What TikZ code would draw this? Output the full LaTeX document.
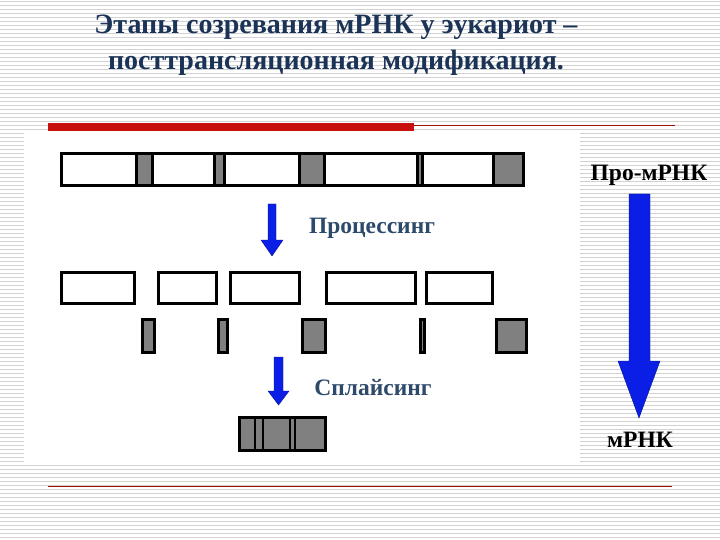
\documentclass[tikz,border=0pt]{standalone}
\usepackage{fontspec}
\setmainfont{Liberation Serif}
\definecolor{navy}{HTML}{1B3356}
\definecolor{lbl}{HTML}{2E4A6B}
\definecolor{exg}{HTML}{808080}
\definecolor{arr}{HTML}{0A1EE6}
\definecolor{redbar}{HTML}{C8100E}
\begin{document}
\begin{tikzpicture}[x=1pt,y=-1pt,
  exon/.style={draw=black,line width=3pt,fill=white},
  intron/.style={draw=black,line width=3pt,fill=exg},
  thin/.style={draw=black,line width=2pt},
  blue/.style={fill=arr,draw=arr!60!black,line width=0.4pt},
  lab/.style={font=\bfseries\fontsize{23.5}{26}\selectfont,text=lbl},
  side/.style={font=\bfseries\fontsize{23.5}{26}\selectfont}]
\useasboundingbox (0,0) rectangle (720,540);
\fill[white] (0,0) rectangle (720,540);
\foreach \y in {1,5,...,540} \draw[gray!35,line width=0.6pt] (0,\y) -- (720,\y);
\fill[white] (24,130) rectangle (580,463);
% title
\node[font=\bfseries\fontsize{28}{36}\selectfont,text=navy,align=center] (title) at (336,45)
  {Этапы созревания мРНК у эукариот –\\ посттрансляционная модификация.};
\fill[redbar] (48,123) rectangle (414,131);
\draw[redbar!80!black,line width=0.8pt] (414,125) -- (675,125);
\draw[redbar!80!black,line width=0.8pt] (48,486) -- (672,486);
% row 1: pro-mRNA
\draw[exon] (61,154) rectangle (523,186);
\foreach \a/\b in {136/152,214/224,299/324,417/422,493/523}
  \draw[intron] (\a,154) rectangle (\b,186);
% row 2 exons
\foreach \a/\b [count=\i] in {61/134,158/216,230/299,326/415,426/492}
  \draw[exon] (\a,272) rectangle (\b,303);
\foreach \a/\b [count=\i] in {142/154,218/227,302/325,420/424,496/526}
  \draw[intron] (\a,319) rectangle (\b,352);
% final mRNA
\draw[intron] (239,417) rectangle (325,450);
\foreach \x in {255,263,290,295} \draw[thin] (\x,417) -- (\x,450);
% small arrows
\draw[blue] (268,204) -- (276,204) -- (276,240) -- (283,240) -- (272,256) -- (261,240) -- (268,240) -- cycle;
\draw[blue] (274,357) -- (283,357) -- (283,391) -- (289,391) -- (278.5,405) -- (268,391) -- (274,391) -- cycle;
\node[lab] (proc) at (372,228) {Процессинг};
\node[lab] (spl) at (373,388) {Сплайсинг};
% big arrow
\node[side] (pro) at (649,175) {Про-мРНК};
\node[side] (m) at (640,440) {мРНК};
\draw[blue] (629,194) -- (650,194) -- (650,361) -- (660,361) -- (639,418) -- (618,361) -- (629,361) -- cycle;
\end{tikzpicture}
\end{document}
